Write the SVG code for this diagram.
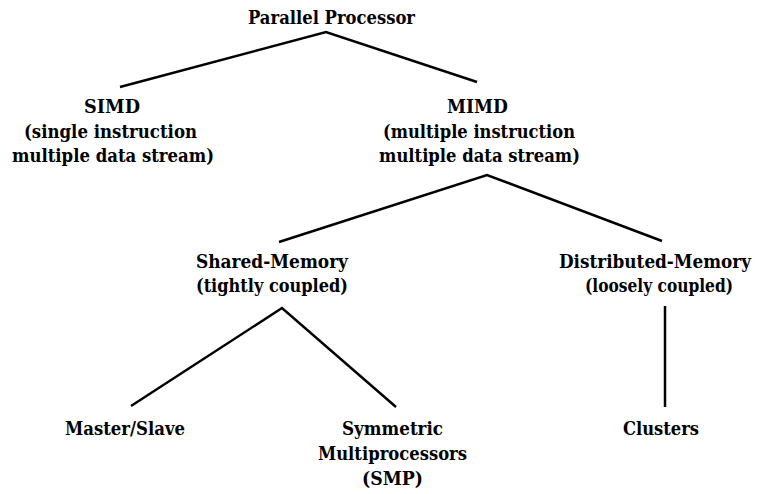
<svg xmlns="http://www.w3.org/2000/svg" width="758" height="494" viewBox="0 0 758 494">
<style>
.t text{font-weight:bold;font-size:18.5px;font-stretch:condensed;fill:#000;text-anchor:middle}
.c{stroke:#000;stroke-width:2.5;fill:none;stroke-linecap:butt}
</style>
<rect width="758" height="494" fill="#fff"/>
<g id="connectors" class="c">
<polyline class="c" points="120,87 326,32 477,82"/>
<polyline class="c" points="279,242 487,175 662,241"/>
<polyline class="c" points="131,406 282,308 396,407"/>
<line class="c" x1="665" y1="306" x2="665" y2="407"/>
</g>
<g class="t" font-family="'DejaVu Serif Condensed', 'DejaVu Serif', serif">
<g id="parallel-processor"><text x="331.5" y="24" textLength="167" lengthAdjust="spacingAndGlyphs">Parallel Processor</text></g>
<g id="simd">
<text x="112" y="113" textLength="56" lengthAdjust="spacingAndGlyphs">SIMD</text>
<text x="110.5" y="138" textLength="173" lengthAdjust="spacingAndGlyphs">(single instruction</text>
<text x="113" y="162" textLength="202" lengthAdjust="spacingAndGlyphs">multiple data stream)</text>
</g>
<g id="mimd">
<text x="477.5" y="113" textLength="61" lengthAdjust="spacingAndGlyphs">MIMD</text>
<text x="479" y="138" textLength="192" lengthAdjust="spacingAndGlyphs">(multiple instruction</text>
<text x="479.5" y="162" textLength="201" lengthAdjust="spacingAndGlyphs">multiple data stream)</text>
</g>
<g id="shared-memory">
<text x="272" y="268" textLength="152" lengthAdjust="spacingAndGlyphs">Shared-Memory</text>
<text x="272" y="292" textLength="152" lengthAdjust="spacingAndGlyphs">(tightly coupled)</text>
</g>
<g id="distributed-memory">
<text x="655" y="268" textLength="192" lengthAdjust="spacingAndGlyphs">Distributed-Memory</text>
<text x="659" y="292" textLength="148" lengthAdjust="spacingAndGlyphs">(loosely coupled)</text>
</g>
<g id="master-slave"><text x="125" y="435" textLength="120" lengthAdjust="spacingAndGlyphs">Master/Slave</text></g>
<g id="smp">
<text x="392.5" y="435" textLength="101" lengthAdjust="spacingAndGlyphs">Symmetric</text>
<text x="392.5" y="460" textLength="149" lengthAdjust="spacingAndGlyphs">Multiprocessors</text>
<text x="392.5" y="485" textLength="61" lengthAdjust="spacingAndGlyphs">(SMP)</text>
</g>
<g id="clusters"><text x="661" y="435" textLength="76" lengthAdjust="spacingAndGlyphs">Clusters</text></g>
</g>
</svg>
